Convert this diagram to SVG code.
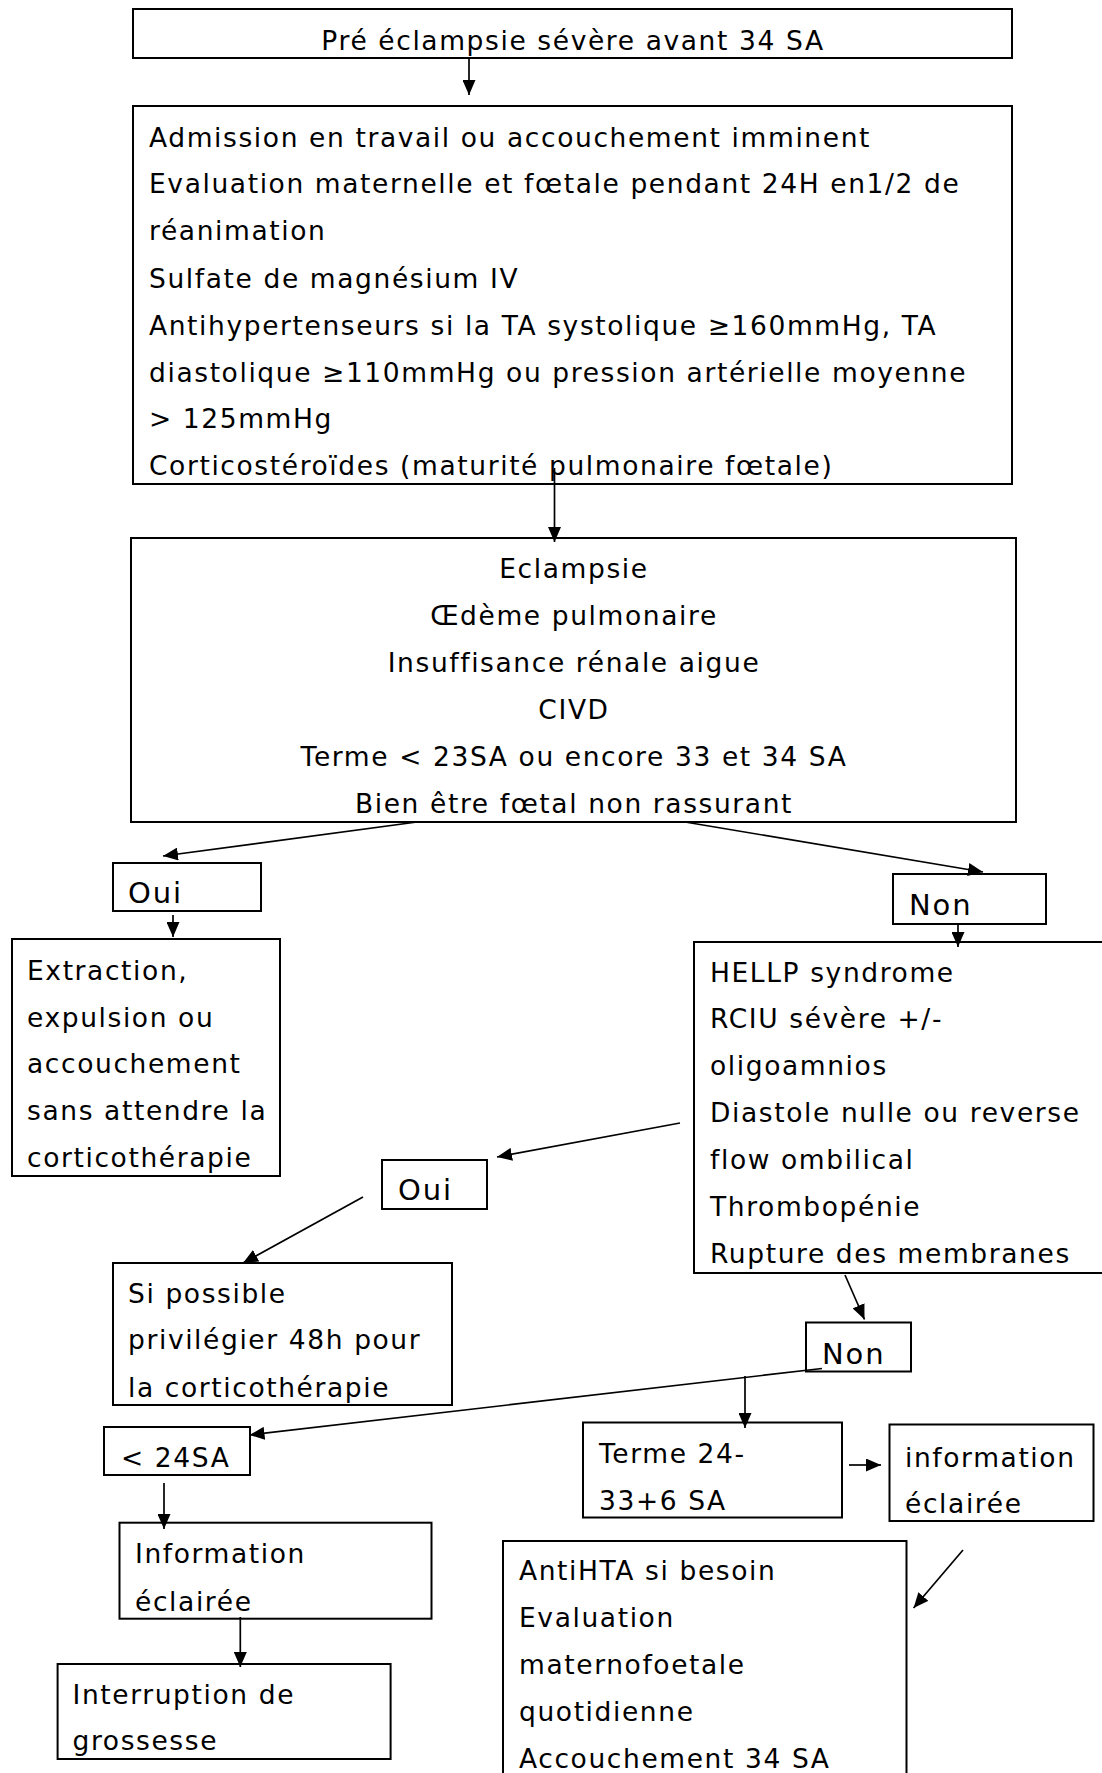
<svg xmlns="http://www.w3.org/2000/svg" width="1102" height="1773" viewBox="0 0 1102 1773">
  <defs>
    <marker id="arrow" markerUnits="userSpaceOnUse" markerWidth="15" markerHeight="13" refX="15" refY="6.5" orient="auto" viewBox="0 0 15 13">
      <path d="M0,0 L15,6.5 L0,13 z" fill="#000"/>
    </marker>
    <style>
      .box { fill: #fff; stroke: #000; stroke-width: 2; }
      .txt { font-family: "DejaVu Sans", Verdana, sans-serif; font-size: 26.5px; letter-spacing: 1.6px; fill: #000; }
      .mid { text-anchor: middle; }
      .lbl { font-size: 29px; letter-spacing: 1.9px; }
      .conn line { stroke: #000; stroke-width: 1.7; fill: none; marker-end: url(#arrow); }
    </style>
  </defs>
  <rect width="1102" height="1773" fill="#fff"/>

  <!-- boxes -->
  <g id="n-pe">
    <rect class="box" x="133" y="9" width="879" height="49"/>
    <text class="txt mid" x="573" y="50">Pré éclampsie sévère avant 34 SA</text>
  </g>

  <g id="n-admission">
    <rect class="box" x="133" y="106" width="879" height="378"/>
    <text class="txt" x="149" y="146.7">Admission en travail ou accouchement imminent</text>
    <text class="txt" x="149" y="193.3">Evaluation maternelle et fœtale pendant 24H en1/2 de</text>
    <text class="txt" x="149" y="240">réanimation</text>
    <text class="txt" x="149" y="288">Sulfate de magnésium IV</text>
    <text class="txt" x="149" y="335">Antihypertenseurs si la TA systolique ≥160mmHg, TA</text>
    <text class="txt" x="149" y="381.7">diastolique ≥110mmHg ou pression artérielle moyenne</text>
    <text class="txt" x="149" y="428.3">&gt; 125mmHg</text>
    <text class="txt" x="149" y="475">Corticostéroïdes (maturité pulmonaire fœtale)</text>
  </g>

  <g id="n-criteres">
    <rect class="box" x="131" y="538" width="885" height="284"/>
    <text class="txt mid" x="574" y="578">Eclampsie</text>
    <text class="txt mid" x="574" y="625">Œdème pulmonaire</text>
    <text class="txt mid" x="574" y="672">Insuffisance rénale aigue</text>
    <text class="txt mid" x="574" y="719">CIVD</text>
    <text class="txt mid" x="574" y="766">Terme &lt; 23SA ou encore 33 et 34 SA</text>
    <text class="txt mid" x="574" y="813">Bien être fœtal non rassurant</text>
  </g>

  <g id="n-oui1">
    <rect class="box" x="113" y="863" width="148" height="48"/>
    <text class="txt lbl" x="128" y="903">Oui</text>
  </g>

  <g id="n-extraction">
    <rect class="box" x="12" y="939" width="268" height="237"/>
    <text class="txt" x="27" y="980">Extraction,</text>
    <text class="txt" x="27" y="1026.7">expulsion ou</text>
    <text class="txt" x="27" y="1073.3">accouchement</text>
    <text class="txt" x="27" y="1120">sans attendre la</text>
    <text class="txt" x="27" y="1167">corticothérapie</text>
  </g>

  <g id="n-non1">
    <rect class="box" x="893" y="874" width="153" height="50"/>
    <text class="txt lbl" x="909" y="915">Non</text>
  </g>

  <g id="n-hellp">
    <rect class="box" x="694" y="942" width="420" height="331"/>
    <text class="txt" x="710" y="981.7">HELLP syndrome</text>
    <text class="txt" x="710" y="1028.3">RCIU sévère +/-</text>
    <text class="txt" x="710" y="1075">oligoamnios</text>
    <text class="txt" x="710" y="1122">Diastole nulle ou reverse</text>
    <text class="txt" x="710" y="1169">flow ombilical</text>
    <text class="txt" x="710" y="1216">Thrombopénie</text>
    <text class="txt" x="710" y="1263">Rupture des membranes</text>
  </g>

  <g id="n-oui2">
    <rect class="box" x="382" y="1160" width="105" height="49"/>
    <text class="txt lbl" x="398" y="1200">Oui</text>
  </g>

  <g id="n-si-possible">
    <rect class="box" x="113" y="1263" width="339" height="142"/>
    <text class="txt" x="128" y="1302.7">Si possible</text>
    <text class="txt" x="128" y="1349.3">privilégier 48h pour</text>
    <text class="txt" x="128" y="1396.5">la corticothérapie</text>
  </g>

  <g id="n-non2">
    <rect class="box" x="806" y="1322.5" width="105" height="49"/>
    <text class="txt lbl" x="822" y="1364">Non</text>
  </g>

  <g id="n-moins24">
    <rect class="box" x="104" y="1427" width="146" height="48"/>
    <text class="txt" x="121" y="1467">&lt; 24SA</text>
  </g>

  <g id="n-information1">
    <rect class="box" x="119.5" y="1522.7" width="312" height="96"/>
    <text class="txt" x="135" y="1563">Information</text>
    <text class="txt" x="135" y="1610.5">éclairée</text>
  </g>

  <g id="n-interruption">
    <rect class="box" x="57.6" y="1664" width="333" height="95"/>
    <text class="txt" x="72.5" y="1704">Interruption de</text>
    <text class="txt" x="72.5" y="1750">grossesse</text>
  </g>

  <g id="n-terme">
    <rect class="box" x="583" y="1422.5" width="259" height="95"/>
    <text class="txt" x="599" y="1463.3">Terme 24-</text>
    <text class="txt" x="599" y="1510">33+6 SA</text>
  </g>

  <g id="n-information2">
    <rect class="box" x="889.5" y="1424.5" width="204" height="96.5"/>
    <text class="txt" x="905" y="1466.7">information</text>
    <text class="txt" x="905" y="1512.7">éclairée</text>
  </g>

  <g id="n-antihta">
    <rect class="box" x="503" y="1541" width="403.5" height="260"/>
    <text class="txt" x="519" y="1580">AntiHTA si besoin</text>
    <text class="txt" x="519" y="1627.3">Evaluation</text>
    <text class="txt" x="519" y="1674">maternofoetale</text>
    <text class="txt" x="519" y="1720.7">quotidienne</text>
    <text class="txt" x="519" y="1768.3">Accouchement 34 SA</text>
  </g>

  <!-- connectors -->
  <g class="conn" id="connectors">
    <line x1="469" y1="58" x2="469" y2="95"/>
    <line x1="554.5" y1="468" x2="554.5" y2="542"/>
    <line x1="417" y1="822" x2="163" y2="856"/>
    <line x1="173" y1="915" x2="173" y2="937"/>
    <line x1="685" y1="822" x2="983" y2="872"/>
    <line x1="958" y1="924" x2="958" y2="947"/>
    <line x1="680" y1="1123" x2="497" y2="1157"/>
    <line x1="363" y1="1197" x2="243" y2="1263"/>
    <line x1="845" y1="1275" x2="864.5" y2="1319.5"/>
    <line x1="822" y1="1368.5" x2="249.5" y2="1435"/>
    <line x1="745" y1="1376" x2="745" y2="1428"/>
    <line x1="164" y1="1483" x2="164" y2="1529"/>
    <line x1="240.3" y1="1617" x2="240.3" y2="1667"/>
    <line x1="849" y1="1465" x2="881" y2="1465"/>
    <line x1="963" y1="1550" x2="913.6" y2="1608"/>
  </g>
</svg>
